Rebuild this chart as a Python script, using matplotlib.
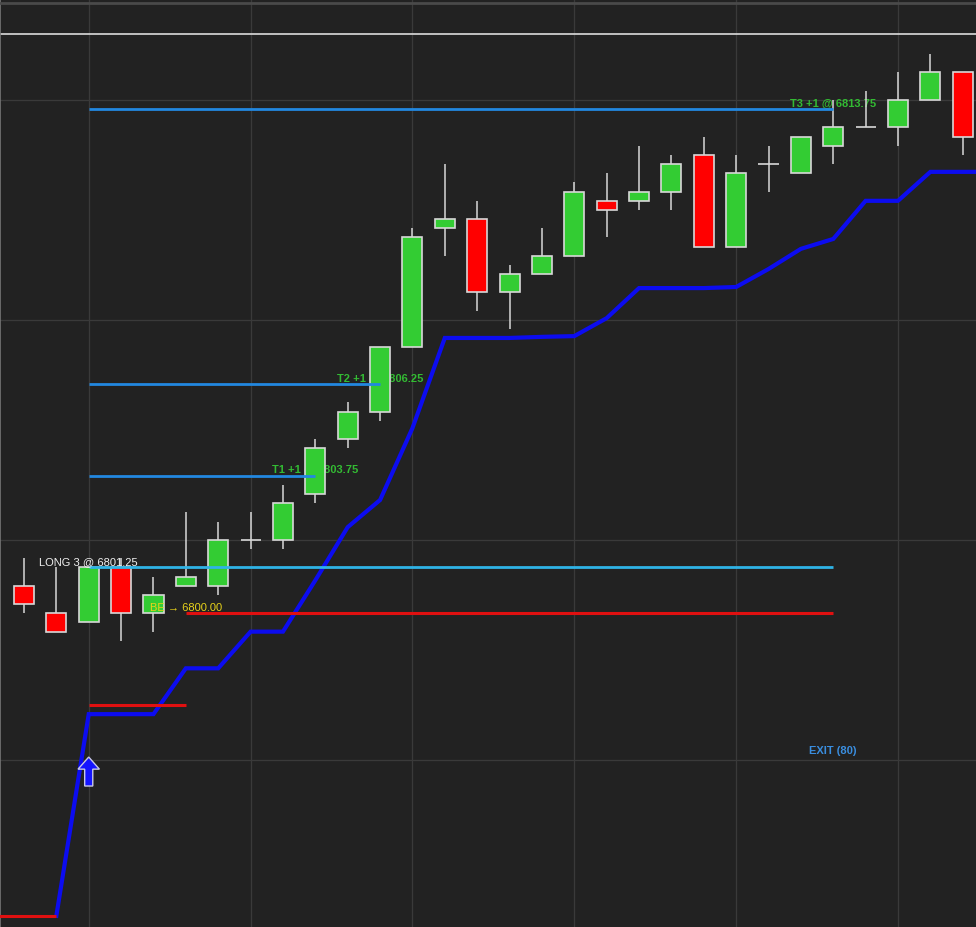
import matplotlib
matplotlib.use("Agg")
import matplotlib.pyplot as plt
from matplotlib.lines import Line2D
import numpy as np

# ---------------- data ----------------
opens  = [6800.75, 6800.00, 6799.75, 6801.25, 6800.00, 6800.75, 6800.75, 6802.00, 6802.00, 6803.25,
          6804.75, 6805.50, 6807.25, 6810.50, 6810.75, 6808.75, 6809.25, 6809.75, 6811.25, 6811.25,
          6811.50, 6812.50, 6810.00, 6812.25, 6812.00, 6812.75, 6813.25, 6813.25, 6814.00, 6814.75]
highs  = [6801.50, 6801.25, 6801.25, 6801.50, 6801.00, 6802.75, 6802.50, 6802.75, 6803.50, 6804.75,
          6805.75, 6807.25, 6810.50, 6812.25, 6811.25, 6809.50, 6810.50, 6811.75, 6812.00, 6812.75,
          6812.50, 6813.00, 6812.50, 6812.75, 6813.00, 6814.00, 6814.25, 6814.75, 6815.25, 6814.75]
lows   = [6800.00, 6799.50, 6799.75, 6799.25, 6799.50, 6800.75, 6800.50, 6801.75, 6801.75, 6803.00,
          6804.50, 6805.25, 6807.25, 6809.75, 6808.25, 6807.75, 6809.25, 6809.75, 6810.25, 6811.00,
          6811.00, 6810.00, 6810.00, 6811.50, 6812.00, 6812.25, 6813.25, 6812.75, 6814.00, 6812.50]
closes = [6800.25, 6799.50, 6801.25, 6800.00, 6800.50, 6801.00, 6802.00, 6802.00, 6803.00, 6804.50,
          6805.50, 6807.25, 6810.25, 6810.75, 6808.75, 6809.25, 6809.75, 6811.50, 6811.00, 6811.50,
          6812.25, 6810.00, 6812.00, 6812.25, 6813.00, 6813.25, 6813.25, 6814.00, 6814.75, 6813.00]

# trailing stop (blue) from bar 1 onwards (continues past last bar)
stop_idx = list(range(1, 31))
stop_vals = [6791.75, 6797.25, 6797.25, 6797.25, 6798.50, 6798.50, 6799.50, 6799.50, 6800.90, 6802.35,
             6803.09, 6805.05, 6807.51, 6807.51, 6807.51, 6807.54, 6807.56, 6808.05, 6808.87, 6808.87,
             6808.87, 6808.90, 6809.39, 6809.94, 6810.21, 6811.25, 6811.25, 6812.04, 6812.04, 6812.04]

initial_stop = 6791.75       # red stop before entry
first_stop = 6797.50         # red stop after entry
entry_price = 6801.25
be_price = 6800.00
targets = [6803.75, 6806.25, 6813.75]
target_end_idx = [9, 11, 25]
target_labels = ["T1 +1 @ 6803.75", "T2 +1 @ 6806.25", "T3 +1 @ 6813.75"]
entry_label = "LONG 3 @ 6801.25"
be_label = "BE \u2192 6800.00"
exit_label = "EXIT (80)"
exit_price = 6796.25
entry_idx = 2
be_start_idx = 5
trade_end_idx = 25
ref_price = 6815.80

# ---------------- style ----------------
BG = "#222222"
GRID = "#3a3a3a"
GREEN = "#33cc33"
RED = "#ff0000"
EDGE = "#d8d8d8"
plt.rcParams["font.family"] = ["Liberation Sans", "DejaVu Sans"]

fig = plt.figure(figsize=(9.76, 9.27), dpi=100, facecolor=BG)
ax = fig.add_axes([0, 0, 1, 1], facecolor=BG)

n = len(opens)
idx = np.arange(n)
o = np.array(opens); c = np.array(closes); h = np.array(highs); l = np.array(lows)

ax.set_xlim(-0.741, 29.41)
ax.set_ylim(6791.445, 6816.727)
ax.set_xticks([2, 7, 12, 17, 22, 27])
ax.set_yticks([6796, 6802, 6808, 6814])
ax.tick_params(length=0, labelleft=False, labelbottom=False)
ax.grid(True, color=GRID, lw=0.9, zorder=0)
ax.set_axisbelow(True)
for s in ["right", "bottom", "top"]:
    ax.spines[s].set_visible(False)
ax.spines["left"].set_color("#777777")
ax.spines["left"].set_linewidth(1.2)

# top separator lines
fig.add_artist(Line2D([0, 1], [1 - 3 / 927, 1 - 3 / 927], transform=fig.transFigure, color="#4a4a4a", lw=2))
ax.axhline(ref_price, color="#dcdcdc", lw=1.2, zorder=1)

# candles
cols = [GREEN if cc > oo else (RED if cc < oo else EDGE) for oo, cc in zip(o, c)]
ax.vlines(idx, l, h, color=EDGE, lw=1.1, zorder=2)
ax.bar(idx, np.abs(c - o), bottom=np.minimum(o, c), width=0.62, color=cols,
       edgecolor=EDGE, linewidth=1.2, zorder=3)

# trailing stop
ax.plot(stop_idx, stop_vals, color="#0c0cf0", lw=3.0, zorder=3.5, solid_joinstyle="miter")

# red stops
ax.hlines(initial_stop, -1, stop_idx[0], color="#e01010", lw=2.2, zorder=4)
ax.hlines(first_stop, entry_idx, be_start_idx, color="#e01010", lw=2.2, zorder=4)
ax.hlines(be_price, be_start_idx, trade_end_idx, color="#e01010", lw=2.2, zorder=4)
# entry line
ax.hlines(entry_price, entry_idx, trade_end_idx, color="#2fb3e6", lw=2.0, zorder=4)
# targets
for t, e, lab in zip(targets, target_end_idx, target_labels):
    ax.hlines(t, entry_idx, e, color="#2288e0", lw=2.0, zorder=4)
    ax.text(e, t + 0.15, lab, color="#33bb33", fontsize=8, fontweight="bold",
            ha="center", va="center", zorder=1.5)

ax.text(entry_idx, entry_price + 0.15, entry_label, color="#f0f0f0", fontsize=8,
        ha="center", va="center", zorder=5)
ax.text(be_start_idx, be_price + 0.15, be_label, color="#e8d21a", fontsize=8,
        ha="center", va="center", zorder=5)
ax.text(trade_end_idx, exit_price, exit_label, color="#3a8ee0", fontsize=8,
        fontweight="bold", ha="center", va="center", zorder=5)

# entry arrow
ax.arrow(entry_idx, 6795.29, 0, 0.79, width=0.25, head_width=0.66, head_length=0.33,
         length_includes_head=True, fc="#1515ff", ec="#c8c8e8", lw=1.0, zorder=6)

fig.savefig("out.png", dpi=100, facecolor=BG)
